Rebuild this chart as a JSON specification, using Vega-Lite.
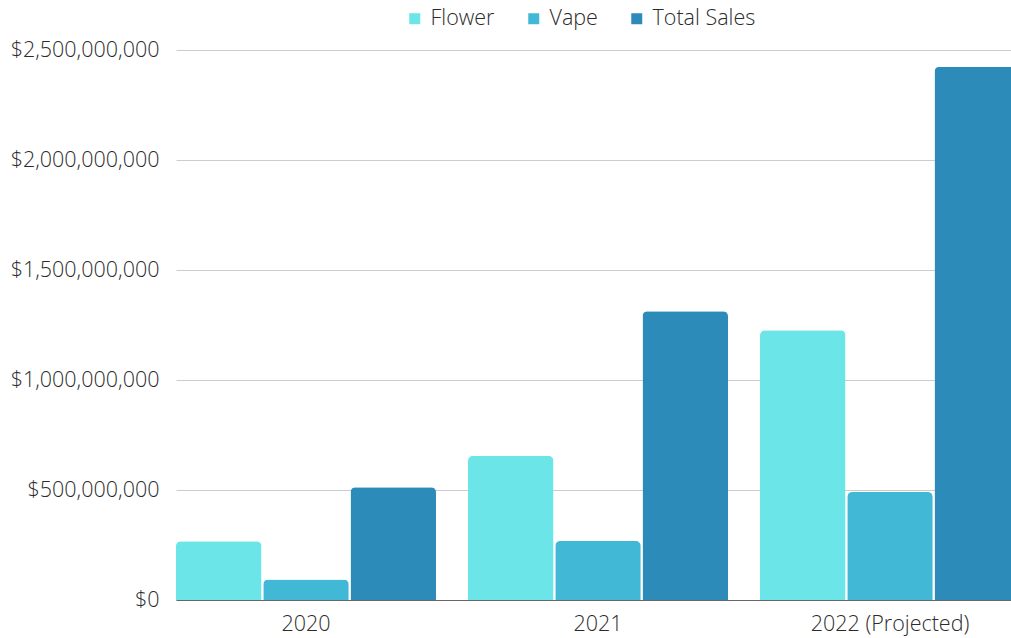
{
  "$schema": "https://vega.github.io/schema/vega-lite/v6.json",
  "width": 835,
  "height": 550,
  "autosize": {"type": "none"},
  "padding": {"left": 176, "top": 50, "right": 0, "bottom": 38},
  "background": "white",
  "config": {
    "font": "Open Sans",
    "view": {"stroke": null},
    "axis": {"labelFont": "Open Sans", "labelFontWeight": 300, "labelColor": "#2b2b2b", "labelFontSize": 21.5, "title": null},
    "legend": {"labelFont": "Open Sans", "labelFontWeight": 300, "labelColor": "#2b2b2b", "labelFontSize": 21.5}
  },
  "data": {
    "values": [
      {"year": "2020", "category": "Flower", "sales": 267000000},
      {"year": "2020", "category": "Vape", "sales": 93000000},
      {"year": "2020", "category": "Total Sales", "sales": 512000000},
      {"year": "2021", "category": "Flower", "sales": 655000000},
      {"year": "2021", "category": "Vape", "sales": 268000000},
      {"year": "2021", "category": "Total Sales", "sales": 1313000000},
      {"year": "2022 (Projected)", "category": "Flower", "sales": 1226000000},
      {"year": "2022 (Projected)", "category": "Vape", "sales": 491000000},
      {"year": "2022 (Projected)", "category": "Total Sales", "sales": 2424000000}
    ]
  },
  "mark": {"type": "bar", "cornerRadiusTopLeft": 5, "cornerRadiusTopRight": 5},
  "encoding": {
    "x": {
      "field": "year",
      "type": "nominal",
      "scale": {"paddingInner": 0.1096, "paddingOuter": 0, "range": [0, 844]},
      "axis": {"labelAngle": 0, "ticks": false, "domainColor": "#666666", "domainWidth": 1, "labelPadding": 13, "grid": false}
    },
    "xOffset": {
      "field": "category",
      "type": "nominal",
      "sort": ["Flower", "Vape", "Total Sales"],
      "scale": {"paddingInner": 0.02, "paddingOuter": 0}
    },
    "y": {
      "field": "sales",
      "type": "quantitative",
      "scale": {"domain": [0, 2500000000], "nice": false},
      "axis": {"values": [0, 500000000, 1000000000, 1500000000, 2000000000, 2500000000], "format": "$,.0f", "ticks": false, "domain": false, "labelPadding": 17, "gridColor": "#cccccc", "gridWidth": 1}
    },
    "color": {
      "field": "category",
      "type": "nominal",
      "sort": ["Flower", "Vape", "Total Sales"],
      "scale": {"domain": ["Flower", "Vape", "Total Sales"], "range": ["#6be5e8", "#41b8d5", "#2d8bba"]},
      "legend": {"title": null, "orient": "none", "direction": "horizontal", "legendX": 228, "legendY": -42, "symbolType": "square", "symbolSize": 121, "symbolStrokeWidth": 0, "labelOffset": 5, "columnPadding": 28, "gridAlign": "none"}
    }
  }
}
